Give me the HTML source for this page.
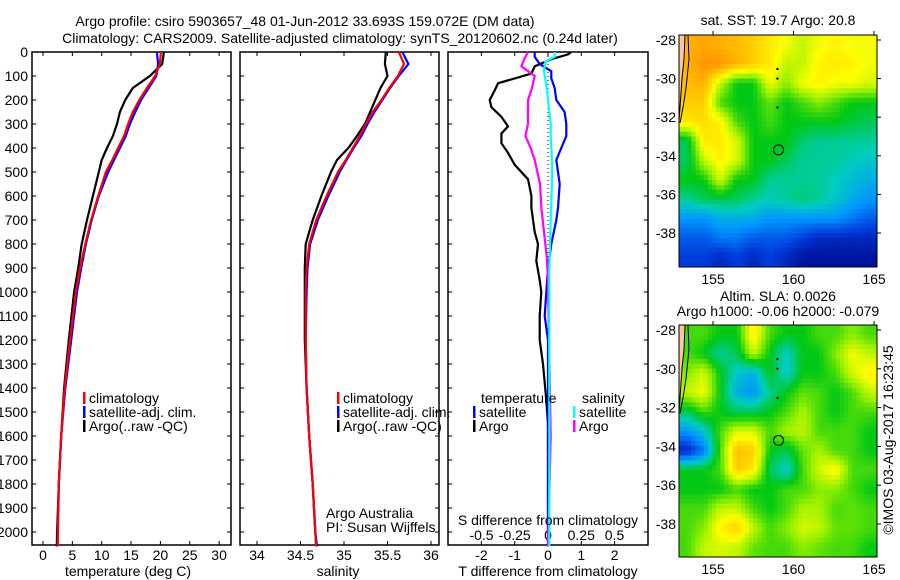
<!DOCTYPE html>
<html><head><meta charset="utf-8"><title>Argo profile</title>
<style>
html,body{margin:0;padding:0;background:#fff;width:900px;height:580px;overflow:hidden}
svg text{font-family:"Liberation Sans",sans-serif;font-size:14px;fill:#000}
</style></head>
<body>
<svg id="chart" width="900" height="580" xmlns="http://www.w3.org/2000/svg">
<g>
<text x="305" y="26" text-anchor="middle">Argo profile: csiro 5903657_48 01-Jun-2012 33.693S 159.072E (DM data)</text>
<text x="340" y="43" text-anchor="middle">Climatology: CARS2009. Satellite-adjusted climatology: synTS_20120602.nc (0.24d later)</text>
</g>
<g id="p1"></g>
<g id="p2"></g>
<g id="p3"></g>
<g id="m1"></g>
<g id="m2"></g>
<text transform="translate(893,440) rotate(-90)" text-anchor="middle">©IMOS 03-Aug-2017 16:23:45</text>
</svg>
<script>
// ---- profile data ----
const depthT = [0,50,100,150,200,250,300,350,400,450,500,600,700,800,900,1000,1200,1400,1600,1800,2000,2060];
const tempArgo = [20.6,20.3,18.2,15.3,14.0,13.1,12.6,11.9,10.9,10.0,9.5,8.5,7.5,6.6,6.0,5.3,4.4,3.6,3.1,2.7,2.4,2.35];
const tempClim = [20.1,19.9,19.1,17.7,16.4,15.3,14.5,13.8,12.8,11.8,10.7,9.4,8.2,7.2,6.3,5.6,4.6,3.7,3.1,2.7,2.55,2.5];
const tempSat  = [19.4,19.6,19.3,18.0,16.7,15.7,14.8,14.1,13.1,12.1,11.1,9.5,8.3,7.3,6.5,5.8,4.8,3.8,3.1,2.7,2.5,2.45];
const salArgo = [35.48,35.47,35.50,35.42,35.36,35.30,35.24,35.15,35.05,34.92,34.85,34.74,34.64,34.56,34.55,34.55,34.55,34.57,34.60,34.64,34.67,34.68];
const salClim = [35.63,35.69,35.62,35.52,35.43,35.33,35.25,35.18,35.10,35.02,34.93,34.80,34.68,34.60,34.57,34.56,34.56,34.57,34.60,34.64,34.67,34.68];
const salSat  = [35.67,35.74,35.63,35.53,35.44,35.35,35.27,35.20,35.11,35.03,34.95,34.82,34.70,34.61,34.58,34.57,34.56,34.57,34.60,34.64,34.67,34.69];
const depthTA = [0,10,30,60,90,110,130,160,200,230,270,310,340,380,420,470,530,600,650,750,800,870,950,1000,1100,1200,1300,1450,1550,2060];
const dTArgo  = [0.7,0.6,0.1,-0.4,-0.5,-1.0,-1.5,-1.6,-1.75,-1.7,-1.4,-1.2,-1.4,-1.4,-1.2,-1.0,-0.6,-0.5,-0.5,-0.4,-0.3,-0.35,-0.25,-0.2,-0.25,-0.25,-0.15,-0.05,0,0];
const depthTS = [0,20,50,80,110,150,200,250,300,350,400,450,500,550,650,700,800,900,1000,1100,1200,1400,2060];
const dTSat   = [-0.4,-0.4,-0.25,0.1,0.1,0.2,0.25,0.5,0.55,0.55,0.4,0.25,0.3,0.35,0.3,0.25,0.1,0,-0.05,-0.1,0,0,0];
const depthSA = [0,30,60,100,150,200,300,350,400,450,500,550,650,750,850,950,1600,2060];
const dSArgo  = [-0.15,-0.18,-0.2,-0.1,-0.12,-0.15,-0.15,-0.17,-0.13,-0.1,-0.08,-0.06,-0.05,-0.03,-0.01,0,0.02,0];
const depthSS = [0,20,40,80,150,200,300,350,450,550,700,900,1200,2000,2060];
const dSSat   = [0.05,0.05,-0.02,-0.03,-0.01,0,0.02,0.02,0.03,0.03,0.02,0.01,0.01,0.01,0.01];
const depthTicks = [0,100,200,300,400,500,600,700,800,900,1000,1100,1200,1300,1400,1500,1600,1700,1800,1900,2000];
const tempTicks = [0,5,10,15,20,25,30];
const salTicks = ["34","34.5","35","35.5","36"];
const tdTicks = [-2,-1,0,1,2];
const sdTicks = ["-0.5","-0.25","0","0.25","0.5"];
// ---- map data (values 0..1 on colour scale), rows lat -28..-39, cols lon 153..164 ----
const sstGrid = [
[.9,.92,.9,.88,.85,.8,.75,.7,.75,.78,.75,.75],
[.9,.95,.95,.9,.85,.8,.7,.7,.78,.8,.78,.75],
[.88,.9,.7,.55,.55,.75,.65,.75,.78,.75,.75,.72],
[.85,.85,.6,.55,.55,.62,.55,.6,.65,.6,.55,.55],
[.8,.82,.78,.6,.55,.6,.55,.55,.55,.55,.52,.5],
[.5,.8,.8,.72,.55,.55,.55,.48,.45,.45,.45,.45],
[.5,.7,.78,.72,.55,.55,.5,.45,.45,.45,.42,.4],
[.55,.55,.72,.55,.55,.45,.45,.45,.45,.42,.38,.35],
[.45,.5,.5,.5,.45,.42,.45,.48,.45,.4,.35,.3],
[.3,.3,.35,.35,.35,.3,.3,.3,.3,.3,.25,.2],
[.2,.2,.25,.25,.2,.2,.2,.15,.1,.1,.1,.1],
[.15,.15,.1,.15,.1,.15,.1,.05,.05,.05,.05,.05]];
const slaGrid = [
[.6,.6,.55,.55,.8,.6,.55,.55,.6,.6,.65,.6],
[.6,.55,.45,.5,.7,.55,.4,.55,.55,.65,.75,.7],
[.65,.72,.55,.4,.35,.55,.4,.55,.55,.6,.72,.78],
[.7,.75,.55,.35,.3,.45,.55,.62,.6,.55,.6,.7],
[.5,.6,.55,.5,.5,.55,.6,.68,.6,.55,.6,.6],
[.3,.4,.6,.72,.72,.6,.68,.7,.6,.6,.6,.55],
[.1,.25,.6,.88,.85,.55,.5,.62,.68,.6,.6,.55],
[.55,.55,.6,.85,.8,.5,.4,.6,.72,.78,.6,.6],
[.55,.55,.55,.6,.55,.55,.6,.6,.65,.65,.6,.55],
[.6,.6,.7,.7,.6,.55,.6,.68,.68,.6,.62,.6],
[.6,.65,.78,.85,.7,.6,.65,.72,.7,.62,.62,.6],
[.6,.7,.72,.7,.62,.6,.6,.65,.62,.6,.6,.55]];
const latTicks = [-28,-30,-32,-34,-36,-38];
const lonTicks = [155,160,165];
const argoPos = [159.07,-33.69];
const trackPts = [[159,-29.5],[159,-30],[159,-31.5]];

const NS='http://www.w3.org/2000/svg';
function el(tag,attrs,parent){const e=document.createElementNS(NS,tag);for(const k in attrs)e.setAttribute(k,attrs[k]);parent.appendChild(e);return e;}
const yD = d => 52 + d*0.24;
const PT=52, PB=545;
function txt(p,x,y,s,anchor){const t=el('text',{x:x,y:y,'text-anchor':anchor||'middle'},p);t.textContent=s;return t;}

function frame(g,x0,x1){
  const r=el('rect',{x:x0,y:PT,width:x1-x0,height:PB-PT,fill:'none',stroke:'#000','stroke-width':1.5},g);
  
  
  depthTicks.forEach(d=>{
    const t1=el('line',{x1:x0,x2:x0+4,y1:yD(d),y2:yD(d),stroke:'#000'},g);
    
    
    const t2=el('line',{x1:x1-4,x2:x1,y1:yD(d),y2:yD(d),stroke:'#000'},g);
    
    
  });
}
function series(g,xs,ds,xf,color,name){
  const pts=xs.map((v,i)=>xf(v).toFixed(1)+','+yD(ds[i]).toFixed(1)).join(' ');
  const pl=el('polyline',{points:pts,fill:'none',stroke:color,'stroke-width':2.2,'stroke-linejoin':'miter'},g);
  
  
}
function xticks(g,vals,xf,labels,y,top){
  vals.forEach((v,i)=>{
    const x=xf(v);
    const a=el('line',{x1:x,x2:x,y1:PB,y2:PB-4,stroke:'#000'},g);
    
    
    if(top){const b=el('line',{x1:x,x2:x,y1:PT,y2:PT+4,stroke:'#000'},g);
    
    }
    const t=txt(g,x,y,labels[i]);
    
    
  });
}
function legend(g,x,y,items){
  items.forEach((it,i)=>{
    const r=el('rect',{x:x,y:y+i*14-11,width:2.5,height:12,fill:it[0]},g);
    
    
    const t=txt(g,x+6,y+i*14,it[1],'start');
    
    
  });
}

// Panel 1
const p1=document.getElementById('p1');
const xT = v => 43 + v*5.87;
frame(p1,32,231);
depthTicks.forEach(d=>{const t=txt(p1,28,yD(d)+5,String(d),'end');

});
xticks(p1,tempTicks,xT,tempTicks.map(String),560,true);
series(p1,tempArgo,depthT,xT,'#000','temp-argo-line');
series(p1,tempSat,depthT,xT,'#00f','temp-satellite-line');
series(p1,tempClim,depthT,xT,'#f00','temp-climatology-line');
legend(p1,83,403,[['#f00','climatology'],['#00f','satellite-adj. clim.'],['#000','Argo(..raw -QC)']]);
{const t=txt(p1,128,576,'temperature (deg C)');}

// Panel 2
const p2=document.getElementById('p2');
const xS = v => 257 + (v-34)*87;
frame(p2,240,439);
xticks(p2,salTicks.map(Number),xS,salTicks,560,true);
series(p2,salArgo,depthT,xS,'#000','sal-argo-line');
series(p2,salSat,depthT,xS,'#00f','sal-satellite-line');
series(p2,salClim,depthT,xS,'#f00','sal-climatology-line');
legend(p2,337,403,[['#f00','climatology'],['#00f','satellite-adj. clim.'],['#000','Argo(..raw -QC)']]);
{const t=txt(p2,326,518,'Argo Australia','start');}
{const t=txt(p2,326,532,'PI: Susan Wijffels','start');}
{const t=txt(p2,338,576,'salinity');}

// Panel 3
const p3=document.getElementById('p3');
const xTD = v => 548 + v*33.3;
const xSD = v => 548 + v*133;
frame(p3,448,648);
{const z=el('line',{x1:548,x2:548,y1:PT,y2:PB,stroke:'#000','stroke-dasharray':'1,3'},p3);}
xticks(p3,tdTicks,xTD,tdTicks.map(String),560,true);
sdTicks.forEach(s=>{const t=txt(p3,xSD(Number(s)),540,s);});
series(p3,dTArgo,depthTA,xTD,'#000','tdiff-argo-line');
series(p3,dTSat,depthTS,xTD,'#00f','tdiff-satellite-line');
series(p3,dSArgo,depthSA,xSD,'#f0f','sdiff-argo-line');
series(p3,dSSat,depthSS,xSD,'#0ff','sdiff-satellite-line');
{const t=txt(p3,481,403,'temperature','start');}
{const t=txt(p3,582,403,'salinity','start');}
legend(p3,473,417,[['#00f','satellite'],['#000','Argo']]);
legend(p3,573,417,[['#0ff','satellite'],['#f0f','Argo']]);
{const t=txt(p3,548,525,'S difference from climatology');}
{const t=txt(p3,548,576,'T difference from climatology');}

// Maps
const stops=[[0,[0,0,130]],[0.15,[0,60,220]],[0.3,[0,150,255]],[0.42,[0,205,190]],[0.55,[0,200,20]],[0.66,[150,240,0]],[0.76,[255,255,0]],[0.86,[255,200,0]],[0.95,[255,150,0]],[1,[220,90,0]]];
function cmap(v){for(let i=1;i<stops.length;i++){if(v<=stops[i][0]){const a=stops[i-1],b=stops[i],f=(v-a[0])/(b[0]-a[0]);return 'rgb('+a[1].map((c,k)=>Math.round(c+(b[1][k]-c)*f)).join(',')+')';}}return 'rgb(220,90,0)';}
function sample(grid,fr,fc){
  const n=grid.length,m=grid[0].length;
  fr=Math.max(0,Math.min(n-1,fr));fc=Math.max(0,Math.min(m-1,fc));
  const r0=Math.floor(fr),c0=Math.floor(fc),r1=Math.min(n-1,r0+1),c1=Math.min(m-1,c0+1);
  const a=fr-r0,b=fc-c0;
  return grid[r0][c0]*(1-a)*(1-b)+grid[r0][c1]*(1-a)*b+grid[r1][c0]*a*(1-b)+grid[r1][c1]*a*b;
}
function drawMap(g,grid,top,bot,lat28y,lat38y,titleLines,titleY){
  const X0=679,X1=877;
  const lonX = lon => 713 + (lon-155)*16.1;
  const latY = lat => lat28y + (-28-lat)*(lat38y-lat28y)/10;
  const SUB=4, rows=grid.length*SUB, cols=grid[0].length*SUB;
  const cw=(X1-X0)/cols, ch=(bot-top)/rows;
  for(let r=0;r<rows;r++)for(let c=0;c<cols;c++){
    const v=sample(grid,(r+0.5)/SUB-0.5,(c+0.5)/SUB-0.5);
    const rc=el('rect',{x:(X0+c*cw).toFixed(2),y:(top+r*ch).toFixed(2),width:(cw+0.5).toFixed(2),height:(ch+0.5).toFixed(2),fill:cmap(v)},g);
    
    
  }
  const land=el('polygon',{points:`${X0},${top} ${X0+6},${top} ${X0+5},${latY(-29)} ${X0+3},${latY(-30)} ${X0+1},${latY(-31.5)} ${X0},${latY(-32.2)}`,fill:'#f9c89b',stroke:'#000','stroke-width':1},g);
  
  
  const coast=el('polyline',{points:`${X0+9},${top} ${X0+10},${latY(-29)} ${X0+7},${latY(-30.5)} ${X0+4},${latY(-31.5)} ${X0+1},${latY(-32.3)}`,fill:'none',stroke:'#000','stroke-width':1},g);
  
  
  const fr=el('rect',{x:X0,y:top,width:X1-X0,height:bot-top,fill:'none',stroke:'#000','stroke-width':1},g);
  
  
  latTicks.forEach(l=>{const y=latY(l);
    const a=el('line',{x1:X1,x2:X1+4,y1:y,y2:y,stroke:'#000'},g);
    
    
    const t=txt(g,676,y+5,String(l),'end');
    
    });
  lonTicks.forEach(l=>{const x=lonX(l);
    const a=el('line',{x1:x,x2:x,y1:top-4,y2:top,stroke:'#000'},g);
    
    
    const t=txt(g,x,bot+17,String(l));
    
    });
  trackPts.forEach(p=>{const d=el('circle',{cx:lonX(p[0]),cy:latY(p[1]),r:1.2,fill:'#000'},g);
    
    });
  const c=el('circle',{cx:lonX(argoPos[0]),cy:latY(argoPos[1]),r:5,fill:'none',stroke:'#000','stroke-width':1},g);
  
  
  titleLines.forEach((s,i)=>{const t=txt(g,778,titleY+i*15,s);
    
    });
}
drawMap(document.getElementById('m1'),sstGrid,35,267,40,233,['sat. SST: 19.7 Argo: 20.8'],25);
drawMap(document.getElementById('m2'),slaGrid,325,557,330,524,['Altim. SLA: 0.0026','Argo h1000: -0.06 h2000: -0.079'],301);
</script>
</body></html>
